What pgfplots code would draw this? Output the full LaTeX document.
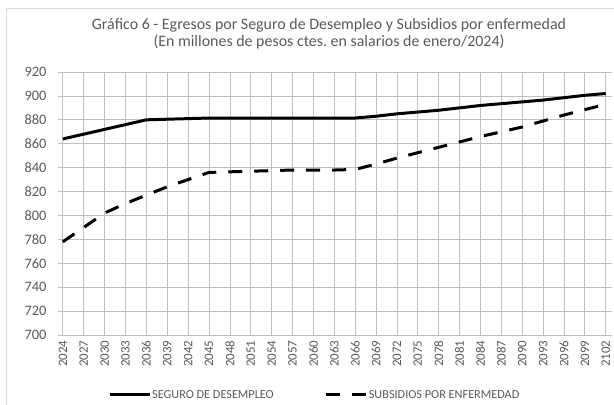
\documentclass[border=0pt]{standalone}
\usepackage{pgfplots}
\pgfplotsset{compat=1.18}
\usepackage{fontspec}
\setmainfont{Carlito}
\frenchspacing
\definecolor{txt}{RGB}{89,89,89}
\definecolor{grid}{RGB}{217,217,217}
\pgfplotstableread{
year seg sub
2024 864 778
2027 868 790
2030 872 802
2033 876 810
2036 880 817
2039 880.5 824
2042 881 830
2045 881.5 836
2048 881.5 836.5
2051 881.5 837
2054 881.5 837.5
2057 881.5 838
2060 881.5 838
2063 881.5 838
2066 881.5 838.5
2069 883 843
2072 885 848
2075 886.5 852.5
2078 888 857
2081 890 861.5
2084 892 866
2087 893.5 870
2090 895 874
2093 896.5 879
2096 898.5 884
2099 900.5 888.5
2102 902 893
}\data
\begin{document}
\begin{tikzpicture}
\useasboundingbox (0bp,0bp) rectangle (614bp,405bp);
\draw[grid,line width=0.8bp] (6bp,-2bp) -- (6bp,397bp) -- (616bp,397bp);
\node[text=txt,font=\fontsize{16}{17}\selectfont,align=center] at (329bp,371.5bp) {Gráfico 6 - Egresos por Seguro de Desempleo y Subsidios por enfermedad\\(En millones de pesos ctes. en salarios de enero/2024)};
\begin{axis}[
  at={(58bp,70bp)}, anchor=south west,
  scale only axis, width=554bp, height=263bp,
  xmin=2023.3, xmax=2102.9, ymin=700, ymax=920,
  ytick={700,720,...,920},
  xtick={2024,2027,...,2102},
  xticklabel style={rotate=90, anchor=east, font=\fontsize{13}{14}\selectfont, text=txt, /pgf/number format/1000 sep={}, xshift=-2bp},
  yticklabel style={font=\fontsize{14.5}{15}\selectfont, text=txt, xshift=-8bp},
  /pgf/number format/assume math mode=true,
  /pgf/number format/1000 sep={},
  ymajorgrids, grid style={grid, line width=0.8bp},
  axis line style={draw=none},
  tick style={draw=none},
  xtick pos=bottom, ytick pos=left,
  legend columns=2,
  legend cell align=left,
  legend style={draw=none, fill=none, inner sep=0pt, at={(0.0903,-0.228)}, anchor=west, font=\fontsize{12.3}{13}\selectfont, text=txt, nodes={inner sep=1bp}, /tikz/every even column/.append style={column sep=50bp}},
  legend image code/.code={\draw[#1] (0bp,0bp) -- (40bp,0bp);},
]
\addplot[black, line width=3pt] table[x=year,y=seg] {\data};
\addlegendentry{SEGURO DE DESEMPLEO}
\addplot[black, line width=3pt, dash pattern=on 14bp off 12bp] table[x=year,y=sub] {\data};
\addlegendentry{SUBSIDIOS POR ENFERMEDAD}
\end{axis}
\end{tikzpicture}
\end{document}
